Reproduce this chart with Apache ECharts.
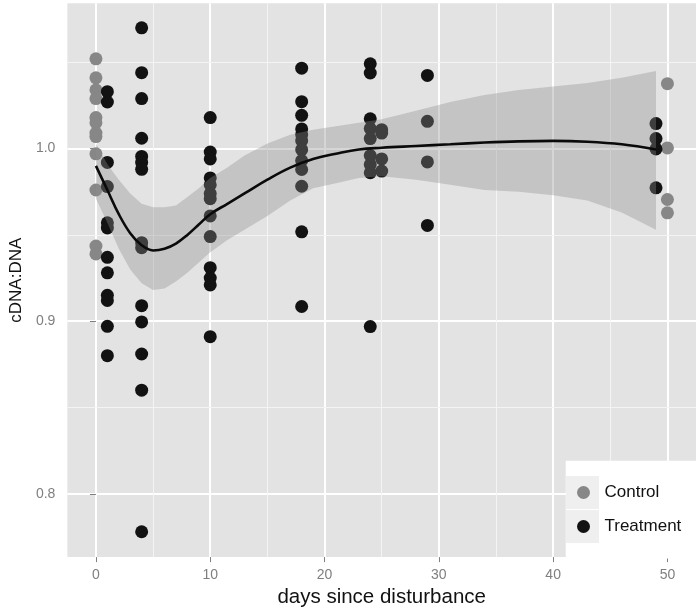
<!DOCTYPE html>
<html><head><meta charset="utf-8">
<script src="https://cdn.jsdelivr.net/npm/echarts@6/dist/echarts.min.js"></script>
<style>html,body{margin:0;padding:0;background:#fff}#c{width:700px;height:613px}</style>
</head><body><div id="c"></div>
<script>
// ---- data ----
const controlDays = [0, 50];
const controlValues = [
  [1.052, 1.041, 1.034, 1.029, 1.018, 1.015, 1.009, 1.007, 0.997, 0.976, 0.9435, 0.939],
  [1.0376, 1.0004, 0.9705, 0.9628]
];
const treatmentDays = [1, 4, 10, 18, 24, 25, 29, 49];
const treatmentValues = [
  [1.033, 1.027, 0.992, 0.978, 0.957, 0.954, 0.937, 0.928, 0.915, 0.912, 0.897, 0.880],
  [1.070, 1.044, 1.029, 1.006, 0.9955, 0.992, 0.988, 0.9455, 0.9426, 0.909, 0.8996, 0.881, 0.860, 0.778],
  [1.018, 0.998, 0.994, 0.983, 0.979, 0.974, 0.971, 0.961, 0.949, 0.931, 0.925, 0.921, 0.891],
  [1.0466, 1.0272, 1.0193, 1.0114, 1.0081, 1.0046, 0.9994, 0.9931, 0.9879, 0.9782, 0.9518, 0.9085],
  [1.0491, 1.0438, 1.0173, 1.0116, 1.0058, 0.996, 0.9908, 0.986, 0.8969],
  [1.011, 1.009, 0.994, 0.987],
  [1.0424, 1.0158, 0.9923, 0.9555],
  [1.0145, 1.0058, 0.9998, 0.9773]
];
const smoothDays = [0, 1, 2, 3, 4, 5, 6, 7, 8, 9, 10, 11.5, 13, 15, 17, 19, 21, 23, 25, 28, 31, 34, 37, 40, 43, 46, 49];
const smoothFit  = [0.990, 0.976, 0.962, 0.951, 0.944, 0.941, 0.942, 0.945, 0.950, 0.956, 0.962, 0.968, 0.974, 0.982, 0.989, 0.994, 0.997, 0.9995, 1.0005, 1.0015, 1.0025, 1.0035, 1.0042, 1.0045, 1.004, 1.0025, 0.9995];
const bandUpper  = [1.003, 0.991, 0.982, 0.974, 0.968, 0.966, 0.966, 0.967, 0.972, 0.977, 0.983, 0.989, 0.996, 1.003, 1.008, 1.011, 1.013, 1.015, 1.017, 1.022, 1.027, 1.031, 1.034, 1.036, 1.038, 1.041, 1.045];
const bandLower  = [0.971, 0.957, 0.942, 0.930, 0.922, 0.918, 0.919, 0.923, 0.928, 0.934, 0.940, 0.947, 0.953, 0.961, 0.970, 0.977, 0.980, 0.983, 0.984, 0.982, 0.979, 0.976, 0.975, 0.973, 0.970, 0.963, 0.953];
const xTicks = [0, 10, 20, 30, 40, 50];
const xMinorTicks = [5, 15, 25, 35, 45];
const yTicks = [0.8, 0.9, 1.0];
const yMinorTicks = [0.85, 0.95, 1.05];

// ---- build ----
function pairs(days, values) {
  const out = [];
  days.forEach((d, i) => values[i].forEach(v => out.push([d, v])));
  return out;
}
const FONT = "'Liberation Sans', Arial, sans-serif";
const chart = echarts.init(document.getElementById('c'), null, {renderer: 'canvas'});
const minorLines = xMinorTicks.map(v => ({xAxis: v})).concat(yMinorTicks.map(v => ({yAxis: v})));

chart.setOption({
  animation: false,
  textStyle: {fontFamily: FONT},
  grid: {left: 62.7, right: 4, top: 3.3, bottom: 54.5, show: true, backgroundColor: '#E3E3E3', borderWidth: 0},
  xAxis: {
    type: 'value', min: -2.5, max: 52.5,
    axisLine: {show: false},
    axisTick: {show: true, length: 5, lineStyle: {color: '#7F7F7F'}, customValues: xTicks},
    axisLabel: {color: '#7F7F7F', fontSize: 14, margin: 11, fontFamily: FONT, customValues: xTicks},
    splitLine: {show: true, lineStyle: {color: '#FFFFFF', width: 2}},
    name: 'days since disturbance', nameLocation: 'middle', nameGap: 29,
    nameTextStyle: {fontSize: 20.5, color: '#111', fontFamily: FONT}
  },
  yAxis: {
    type: 'value', min: 0.7633, max: 1.0842, splitNumber: 3,
    axisLine: {show: false},
    axisTick: {show: true, length: 6, lineStyle: {color: '#7F7F7F'}, customValues: yTicks},
    axisLabel: {color: '#7F7F7F', fontSize: 14, margin: 12, fontFamily: FONT, customValues: yTicks,
      formatter: v => v.toFixed(1)},
    splitLine: {show: true, lineStyle: {color: '#FFFFFF', width: 2}},
    name: 'cDNA:DNA', nameLocation: 'middle', nameGap: 38,
    nameTextStyle: {fontSize: 17, color: '#111', fontFamily: FONT}
  },
  legend: {
    data: ['Control', 'Treatment'], orient: 'vertical', left: 577, top: 484, z: 8,
    icon: 'circle', itemWidth: 32, itemHeight: 13, itemGap: 17, padding: 0,
    selectedMode: false,
    textStyle: {fontSize: 17, color: '#111', lineHeight: 13, fontFamily: FONT}
  },
  graphic: [
    {type: 'rect', z: 6, silent: true, shape: {x: 565.7, y: 460.7, width: 131, height: 97.8}, style: {fill: '#FFFFFF'}},
    {type: 'rect', z: 7, silent: true, shape: {x: 566, y: 476, width: 33, height: 33}, style: {fill: '#EFEFEF'}},
    {type: 'rect', z: 7, silent: true, shape: {x: 566, y: 510, width: 33, height: 33}, style: {fill: '#EFEFEF'}}
  ],
  series: [
    {
      name: 'Control', type: 'scatter', z: 2, symbolSize: 13,
      itemStyle: {color: '#878787', opacity: 1},
      data: pairs(controlDays, controlValues),
      markLine: {silent: true, z: 1, symbol: 'none', label: {show: false},
        lineStyle: {color: '#F4F4F4', width: 1, type: 'solid'}, data: minorLines}
    },
    {
      name: 'Treatment', type: 'scatter', z: 2, symbolSize: 13,
      itemStyle: {color: '#121212', opacity: 1},
      data: pairs(treatmentDays, treatmentValues)
    },
    {
      name: 'ci', type: 'custom', z: 3, silent: true,
      data: [[smoothDays[0], smoothFit[0]]],
      encode: {x: 0, y: 1},
      renderItem: function (params, api) {
        const pts = [];
        for (let i = 0; i < smoothDays.length; i++) pts.push(api.coord([smoothDays[i], bandUpper[i]]));
        for (let i = smoothDays.length - 1; i >= 0; i--) pts.push(api.coord([smoothDays[i], bandLower[i]]));
        return {type: 'polygon', shape: {points: pts}, style: {fill: 'rgba(140,140,140,0.36)'}};
      }
    },
    {
      name: 'fit', type: 'line', z: 4, smooth: 0.4, showSymbol: false, silent: true,
      lineStyle: {color: '#0A0A0A', width: 2.6},
      data: smoothDays.map((d, i) => [d, smoothFit[i]])
    }
  ]
});
</script>
</body></html>
